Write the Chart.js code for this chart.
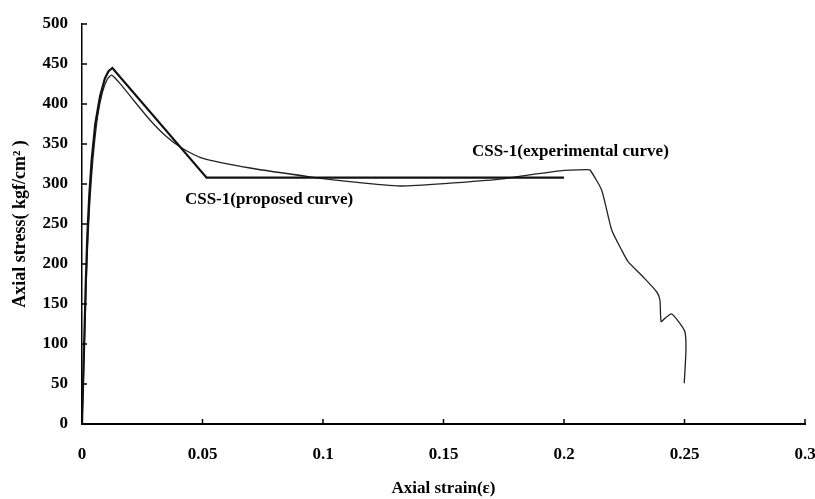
<!DOCTYPE html>
<html>
<head>
<meta charset="utf-8">
<script src="https://cdn.jsdelivr.net/npm/chart.js@4.4.0/dist/chart.umd.min.js"></script>
<style>
  body { margin: 0; background: #fff; }
  canvas { display: block; }
</style>
</head>
<body>
<canvas id="stressChart" width="815" height="499"></canvas>
<script>
// proposed stress-strain model (piecewise)
const proposedStrain = [0, 0.0008, 0.0015, 0.0022, 0.003, 0.004, 0.0055, 0.0075, 0.0095, 0.011, 0.0126, 0.0517, 0.2];
const proposedStress = [0, 90, 170, 235, 285, 330, 375, 410, 432, 441, 445, 308, 308];

// measured curve
const expStrain = [0, 0.0005, 0.0012, 0.002, 0.003, 0.0045, 0.0065, 0.0085, 0.0105, 0.0123, 0.0165, 0.0213,
    0.0282, 0.0351, 0.0414, 0.0502, 0.0697, 0.0946, 0.111, 0.132, 0.1527, 0.1734, 0.1871, 0.1983, 0.2094,
    0.2108, 0.2156, 0.2198, 0.2239, 0.2266, 0.2328, 0.2385, 0.2398, 0.2403, 0.242, 0.2447, 0.248, 0.2502,
    0.2506, 0.2499];
const expStress = [0, 50, 120, 200, 265, 330, 385, 415, 431, 436, 423, 405,
    380, 359, 345, 332, 320, 309, 303, 297.5, 301, 306, 312, 316.5, 318,
    317.5, 292.5, 242.5, 217.5, 203, 184, 165, 155, 128, 132.5, 137.5, 126, 115,
    92.5, 51];

const xTicks = [0, 0.05, 0.1, 0.15, 0.2, 0.25, 0.3];
const yTicks = [0, 50, 100, 150, 200, 250, 300, 350, 400, 450, 500];

const curveLabels = [
    { text: 'CSS-1(proposed curve)', x: 0.0427, y: 280 },
    { text: 'CSS-1(experimental curve)', x: 0.1618, y: 340 }
];

const FONT = "'Liberation Serif', 'Times New Roman', serif";

function toPoints(xs, ys) {
    return xs.map((x, i) => ({ x: x, y: ys[i] }));
}

// small inward tick marks + curve captions
const extras = {
    id: 'extras',
    afterDatasetsDraw(chart) {
        const ctx = chart.ctx;
        const xs = chart.scales.x, ys = chart.scales.y;
        ctx.save();
        ctx.strokeStyle = '#000';
        ctx.lineWidth = 1.5;
        ctx.beginPath();
        yTicks.forEach(v => {
            const py = ys.getPixelForValue(v);
            ctx.moveTo(xs.left, py);
            ctx.lineTo(xs.left + 5, py);
        });
        xTicks.forEach(v => {
            const px = xs.getPixelForValue(v);
            ctx.moveTo(px, ys.bottom);
            ctx.lineTo(px, ys.bottom - 5);
        });
        ctx.stroke();

        ctx.fillStyle = '#000';
        ctx.font = 'bold 17px ' + FONT;
        ctx.textAlign = 'left';
        ctx.textBaseline = 'middle';
        curveLabels.forEach(l => {
            ctx.fillText(l.text, xs.getPixelForValue(l.x), ys.getPixelForValue(l.y));
        });
        ctx.restore();
    }
};

new Chart(document.getElementById('stressChart'), {
    type: 'line',
    data: {
        datasets: [{
            label: 'CSS-1(proposed curve)',
            data: toPoints(proposedStrain, proposedStress),
            borderColor: '#111',
            borderWidth: 2.2,
            pointRadius: 0,
            tension: 0
        }, {
            label: 'CSS-1(experimental curve)',
            data: toPoints(expStrain, expStress),
            borderColor: '#222',
            borderWidth: 1.3,
            pointRadius: 0,
            tension: 0.2
        }]
    },
    options: {
        responsive: false,
        animation: false,
        layout: { padding: { left: 0, right: 10, top: 24, bottom: 0 } },
        plugins: { legend: { display: false }, tooltip: { enabled: false } },
        scales: {
            x: {
                type: 'linear',
                min: 0,
                max: 0.3,
                afterBuildTicks: s => { s.ticks = xTicks.map(v => ({ value: v })); },
                afterFit: s => { s.height = 75; s.paddingLeft = 0; s.paddingRight = 0; },
                grid: { display: false, drawTicks: false },
                border: { display: true, color: '#000', width: 2 },
                ticks: {
                    color: '#000',
                    padding: 20,
                    maxRotation: 0,
                    font: { family: FONT, size: 17, weight: 'bold' },
                    callback: v => String(v)
                },
                title: {
                    display: true,
                    text: 'Axial strain(ε)',
                    color: '#000',
                    padding: { top: 0, bottom: 0 },
                    font: { family: FONT, size: 17, weight: 'bold' }
                }
            },
            y: {
                min: 0,
                max: 500,
                afterBuildTicks: s => { s.ticks = yTicks.map(v => ({ value: v })); },
                afterFit: s => { s.width = 82; s.paddingTop = 0; s.paddingBottom = 0; },
                grid: { display: false, drawTicks: false },
                border: { display: true, color: '#000', width: 1.5 },
                ticks: {
                    color: '#000',
                    padding: 14,
                    font: { family: FONT, size: 17, weight: 'bold' }
                },
                title: {
                    display: true,
                    text: 'Axial stress( kgf/cm² )',
                    color: '#000',
                    padding: { top: 10, bottom: 0 },
                    font: { family: FONT, size: 18, weight: 'bold' }
                }
            }
        }
    },
    plugins: [extras]
});
</script>
</body>
</html>
